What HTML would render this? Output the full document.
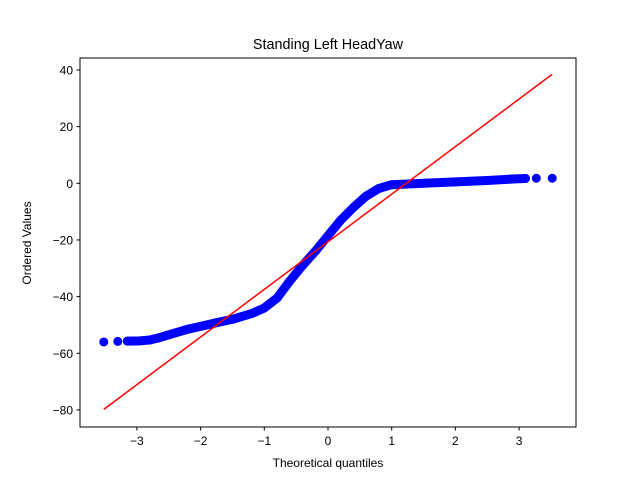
<!DOCTYPE html>
<html><head><meta charset="utf-8"><style>
body{margin:0;background:#fff;}
svg text{font-family:"Liberation Sans","DejaVu Sans",sans-serif;fill:#000;}
</style></head><body>
<svg id="chart" width="640" height="480" xmlns="http://www.w3.org/2000/svg">
<rect width="640" height="480" fill="#fff"/>
<text x="328" y="49" font-size="14.4" text-anchor="middle">Standing Left HeadYaw</text>
<g id="plot"></g>
<rect x="80" y="58" width="496" height="369" fill="none" stroke="#000" stroke-width="1"/>
<text x="328" y="467" font-size="12" text-anchor="middle">Theoretical quantiles</text>
<text transform="translate(31,243) rotate(-90)" font-size="12" text-anchor="middle">Ordered Values</text>
</svg>
<script>
const xTicks=[-3,-2,-1,0,1,2,3];
const yTicks=[40,20,0,-20,-40,-60,-80];
const quantiles=[-3.52,-3.3,-3.15,-2.95,-2.8,-2.65,-2.5,-2.2,-2.0,-1.75,-1.5,-1.2,-1.0,-0.8,-0.6,-0.4,-0.2,0,0.2,0.4,0.6,0.8,1.0,1.5,2.0,2.5,2.9,3.1,3.27,3.52];
const ordered=[-56,-55.8,-55.7,-55.6,-55.3,-54.5,-53.5,-51.5,-50.5,-49.2,-48,-46,-44,-40.5,-34.5,-29,-24,-18.5,-13,-8.5,-4.5,-1.8,-0.5,0,0.5,1,1.5,1.7,1.8,1.8];
const fitX=[-3.52,3.52];
const fitY=[-79.8,38.5];
const X=v=>328+v*63.7, Y=v=>183.3-v*2.833;
const NS="http://www.w3.org/2000/svg", g=document.getElementById('plot');
function mk(t,a){const e=document.createElementNS(NS,t);for(const k in a)e.setAttribute(k,a[k]);g.appendChild(e);return e;}
xTicks.forEach(t=>{
 const l=mk('line',{x1:X(t),x2:X(t),y1:427,y2:430.5,stroke:'#000'});
 
 
 const s=mk('text',{x:X(t),y:445,'font-size':12,'text-anchor':'middle'});
 s.textContent=(t<0?'\u2212':'')+Math.abs(t);
 
 
});
yTicks.forEach(t=>{
 const l=mk('line',{x1:76.5,x2:80,y1:Y(t),y2:Y(t),stroke:'#000'});
 
 
 const s=mk('text',{x:73,y:Y(t)+4.5,'font-size':12,'text-anchor':'end'});
 s.textContent=(t<0?'\u2212':'')+Math.abs(t);
 
 
});
const band=mk('polyline',{points:quantiles.slice(2,-2).map((q,i)=>X(q)+','+Y(ordered[i+2])).join(' '),fill:'none',stroke:'#0000ff','stroke-width':9,'stroke-linejoin':'round','stroke-linecap':'round'});


quantiles.forEach((q,i)=>{
 const c=mk('circle',{cx:X(q),cy:Y(ordered[i]),r:4.5,fill:'#0000ff'});
 
 
});
const fl=mk('line',{x1:X(fitX[0]),y1:Y(fitY[0]),x2:X(fitX[1]),y2:Y(fitY[1]),stroke:'#ff0000','stroke-width':1.5});


</script>
</body></html>
